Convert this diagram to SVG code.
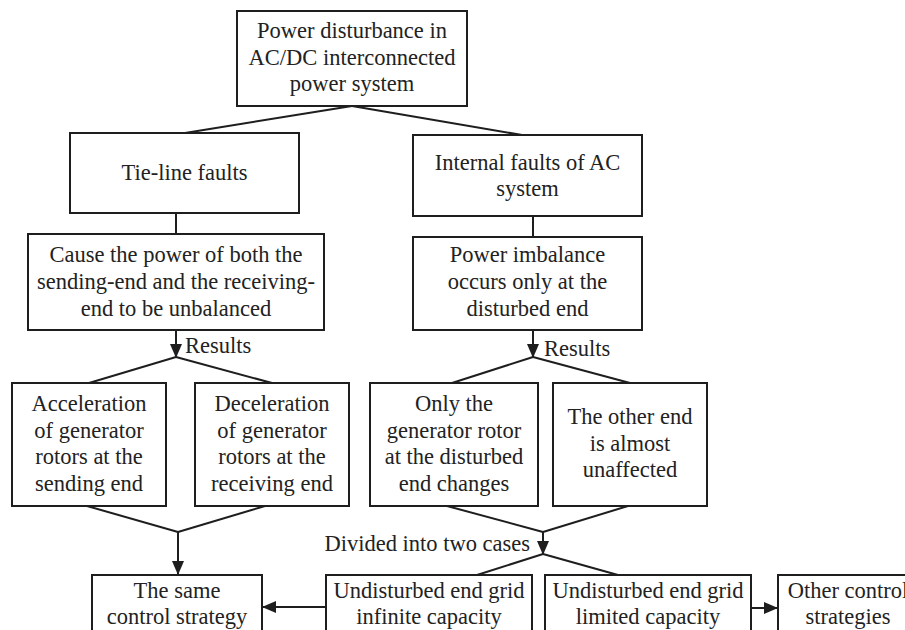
<svg xmlns="http://www.w3.org/2000/svg" width="905" height="630" viewBox="0 0 905 630">
  <defs>
    <marker id="arr" markerUnits="userSpaceOnUse" markerWidth="14" markerHeight="12" refX="13" refY="6" orient="auto">
      <path d="M0,0 L14,6 L0,12 Z" fill="#1e1e1e"/>
    </marker>
    <style>
      rect { fill: #ffffff; stroke: #1e1e1e; stroke-width: 2; }
      text { font-family: 'Liberation Serif', 'Times New Roman', serif; font-size: 22.5px; fill: #222222; text-anchor: middle; }
      .lbl { text-anchor: start; }
      .end { text-anchor: end; }
      #connectors line { stroke: #1e1e1e; stroke-width: 2; fill: none; }
    </style>
  </defs>
  <rect x="0" y="0" width="905" height="630" style="fill:#ffffff;stroke:none"/>

  <g id="connectors">
    <line x1="352" y1="106" x2="185" y2="133"/>
    <line x1="352" y1="106" x2="522" y2="135"/>
    <line x1="176" y1="213" x2="176" y2="234"/>
    <line x1="533" y1="216" x2="533" y2="237"/>
    <line x1="176" y1="330" x2="176" y2="357" marker-end="url(#arr)"/>
    <line x1="533" y1="330" x2="533" y2="357" marker-end="url(#arr)"/>
    <line x1="176" y1="357" x2="89" y2="383"/>
    <line x1="176" y1="357" x2="272" y2="383"/>
    <line x1="533" y1="357" x2="452" y2="383"/>
    <line x1="533" y1="357" x2="630" y2="383"/>
    <line x1="87" y1="506" x2="178" y2="532"/>
    <line x1="265" y1="506" x2="178" y2="532"/>
    <line x1="178" y1="532" x2="178" y2="574" marker-end="url(#arr)"/>
    <line x1="447" y1="506" x2="543" y2="532"/>
    <line x1="628" y1="506" x2="543" y2="532"/>
    <line x1="543" y1="532" x2="543" y2="554" marker-end="url(#arr)"/>
    <line x1="543" y1="554" x2="477" y2="575"/>
    <line x1="543" y1="554" x2="618" y2="575"/>
    <line x1="326" y1="607" x2="263" y2="607" marker-end="url(#arr)"/>
    <line x1="751" y1="608" x2="777" y2="608" marker-end="url(#arr)"/>
    <text class="lbl" x="185" y="353">Results</text>
    <text class="lbl" x="544" y="356">Results</text>
    <text class="end" x="530" y="551">Divided into two cases</text>
  </g>

  <g id="n1">
    <rect x="237" y="11" width="230" height="95"/>
    <text x="352" y="38">Power disturbance in</text>
    <text x="352" y="65">AC/DC interconnected</text>
    <text x="352" y="91">power system</text>
  </g>
  <g id="n2">
    <rect x="70" y="133" width="229" height="80"/>
    <text x="184.5" y="180">Tie-line faults</text>
  </g>
  <g id="n3">
    <rect x="413" y="135" width="229" height="81"/>
    <text x="527.5" y="170">Internal faults of AC</text>
    <text x="527.5" y="196">system</text>
  </g>
  <g id="n4">
    <rect x="28" y="234" width="296" height="96"/>
    <text x="176" y="262">Cause the power of both the</text>
    <text x="176" y="289">sending-end and the receiving-</text>
    <text x="176" y="316">end to be unbalanced</text>
  </g>
  <g id="n5">
    <rect x="413" y="237" width="229" height="93"/>
    <text x="527.5" y="262">Power imbalance</text>
    <text x="527.5" y="289">occurs only at the</text>
    <text x="527.5" y="316">disturbed end</text>
  </g>
  <g id="n6">
    <rect x="12" y="383" width="154" height="123"/>
    <text x="89" y="411">Acceleration</text>
    <text x="89" y="438">of generator</text>
    <text x="89" y="464">rotors at the</text>
    <text x="89" y="491">sending end</text>
  </g>
  <g id="n7">
    <rect x="195" y="383" width="154" height="123"/>
    <text x="272" y="411">Deceleration</text>
    <text x="272" y="438">of generator</text>
    <text x="272" y="464">rotors at the</text>
    <text x="272" y="491">receiving end</text>
  </g>
  <g id="n8">
    <rect x="370" y="383" width="168" height="123"/>
    <text x="454" y="411">Only the</text>
    <text x="454" y="438">generator rotor</text>
    <text x="454" y="464">at the disturbed</text>
    <text x="454" y="491">end changes</text>
  </g>
  <g id="n9">
    <rect x="553" y="383" width="154" height="123"/>
    <text x="630" y="424">The other end</text>
    <text x="630" y="451">is almost</text>
    <text x="630" y="477">unaffected</text>
  </g>
  <g id="n10">
    <rect x="92" y="575" width="170" height="70"/>
    <text x="177" y="598">The same</text>
    <text x="177" y="624">control strategy</text>
  </g>
  <g id="n11">
    <rect x="326" y="575" width="206" height="70"/>
    <text x="429" y="598">Undisturbed end grid</text>
    <text x="429" y="624">infinite capacity</text>
  </g>
  <g id="n12">
    <rect x="545" y="575" width="206" height="70"/>
    <text x="648" y="598">Undisturbed end grid</text>
    <text x="648" y="624">limited capacity</text>
  </g>
  <g id="n13">
    <rect x="778" y="575" width="142" height="70"/>
    <text x="848" y="598">Other control</text>
    <text x="848" y="624">strategies</text>
  </g>
</svg>
